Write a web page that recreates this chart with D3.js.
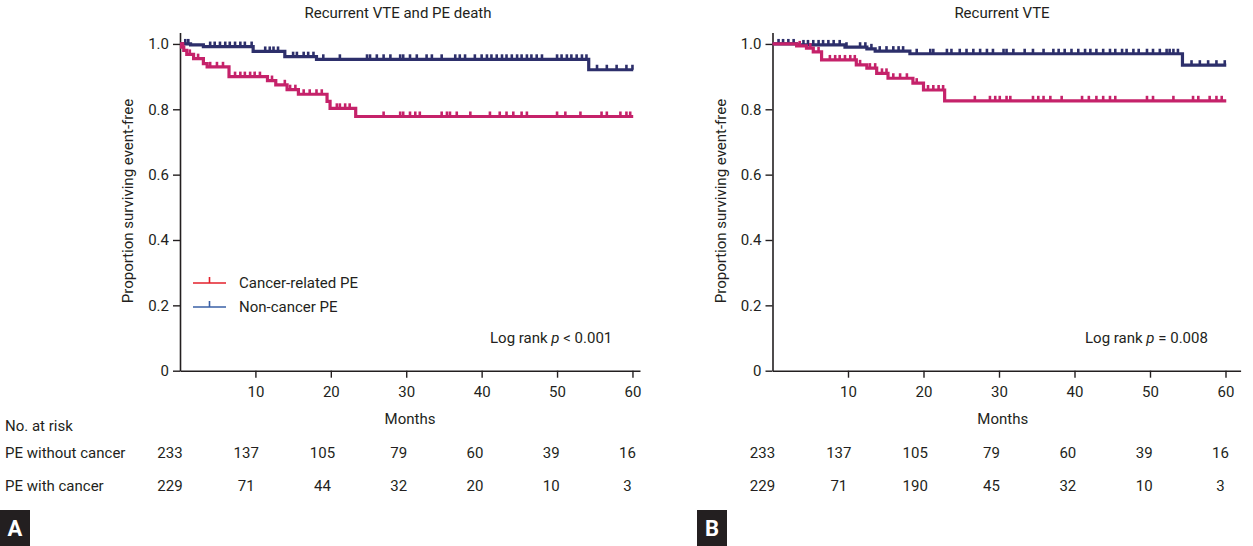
<!DOCTYPE html>
<html><head><meta charset="utf-8">
<script src="https://cdn.jsdelivr.net/npm/d3@7"></script>
<style>
body{margin:0;background:#fff;}
svg text{font-family:'Liberation Sans Narrow','Roboto',sans-serif;fill:#231f20;}
</style></head>
<body><svg id="c" width="1253" height="546"></svg>
<script>
// ---------- data ----------
const riskMonths = [0,10,20,30,40,50,60];
const xTicks = [10,20,30,40,50,60];
const yTicks = [0,0.2,0.4,0.6,0.8,1.0];
const riskWithoutCancerA = [233,137,105,79,60,39,16];
const riskWithCancerA    = [229,71,44,32,20,10,3];
const riskWithoutCancerB = [233,137,105,79,60,39,16];
const riskWithCancerB    = [229,71,190,45,32,10,3];
const seriesNames = ["Cancer-related PE","Non-cancer PE"];
const rowNames = ["PE without cancer","PE with cancer"];

// step points [month, proportion]
const aNonCancer = [[0,1.0],[1.4,0.997],[3.1,0.992],[9.7,0.977],[13.9,0.961],[18.1,0.953],[54.2,0.921]];
const aCancer = [[0,1.0],[0.2,0.99],[0.5,0.98],[0.9,0.968],[1.8,0.955],[3.1,0.94],[3.6,0.93],[6.5,0.90],[11.6,0.888],[12.7,0.875],[14.2,0.86],[15.7,0.846],[19.5,0.824],[19.9,0.803],[23.3,0.778]];
const bNonCancer = [[0,1.0],[3.2,0.997],[9.6,0.99],[12.5,0.985],[13.6,0.978],[18.2,0.97],[54.3,0.935]];
const bCancer = [[0,1.0],[3.2,0.994],[4.5,0.987],[5.4,0.976],[6.5,0.951],[11.1,0.936],[12.5,0.926],[13.8,0.91],[15.3,0.895],[18.6,0.88],[20.0,0.859],[22.8,0.826]];
const endMonth = 60.1;

// censoring times (months)
const aNonCancerCensor = [0.7,1.1,4.0,4.6,5.3,6.0,6.6,7.3,8.0,8.6,9.5,11.3,11.9,12.4,13.0,15.0,15.5,16.4,17.0,17.7,19.0,21.2,24.8,25.2,26.1,27.0,27.9,29.2,29.6,30.5,31.4,32.7,33.4,34.7,36.5,37.1,37.8,39.1,40.0,40.7,41.3,42.0,42.7,43.3,44.0,44.7,45.3,46.0,46.6,47.3,48.0,50.0,50.6,51.3,51.9,52.6,53.3,53.9,55.3,56.6,57.9,59.2,60.0];
const aCancerCensor = [0.4,1.3,2.4,4.0,4.9,5.7,7.3,8.0,8.6,9.3,9.9,10.6,12.2,13.9,14.6,15.3,16.4,17.2,18.1,18.8,20.8,21.2,21.9,22.5,27.0,29.2,29.6,30.5,31.2,31.8,34.7,35.4,35.8,36.7,38.5,41.1,42.4,43.3,44.2,45.3,46.0,50.0,51.1,53.1,55.9,56.6,58.4,59.2,59.7];
const bNonCancerCensor = [0.8,1.4,2.1,2.8,4.1,4.7,5.4,6.1,6.7,7.4,8.1,8.9,9.8,11.6,12.3,13.1,14.2,15.1,16.0,16.7,17.3,19.1,20.9,21.3,23.1,23.7,24.8,25.7,26.6,27.5,28.4,29.2,30.6,31.0,31.9,33.4,34.5,35.9,37.2,37.9,38.7,39.6,40.5,41.4,42.1,42.9,43.8,44.7,45.4,46.3,46.9,47.8,48.5,49.6,50.4,51.3,52.2,52.6,53.1,53.7,55.5,56.6,57.7,58.8,59.9];
const bCancerCensor = [3.6,5.0,6.1,7.6,8.3,8.9,9.6,10.3,10.9,11.6,12.9,13.6,14.5,15.1,16.0,16.9,17.8,19.1,20.6,21.3,22.0,22.6,26.8,28.8,29.5,30.1,31.0,31.5,34.5,35.2,35.9,36.8,38.3,41.0,41.9,42.9,43.8,44.7,45.4,49.6,50.4,53.1,55.7,56.4,57.9,58.8,59.5];

// ---------- style ----------
const navy = "#2d2f6b", magenta = "#c5226a";
const legendRed = "#e3202b", legendBlue = "#3a60a6";
const svg = d3.select("#c");

function stepValue(steps, t){
  let v = steps[0][1];
  for (const s of steps) if (s[0] <= t) v = s[1];
  return v;
}

function panel(opt){
  const g = svg.append("g");
  const x = d3.scaleLinear().domain([0, opt.xMax]).range([opt.x0, opt.x1]);
  const y = d3.scaleLinear().domain([0, 1.035]).range([370.7, 32.5]);

  // axes
  const ya = d3.axisLeft(y).tickValues(yTicks).tickSize(7).tickSizeOuter(0).tickPadding(4)
      .tickFormat(d => d === 0 ? "0" : d3.format(".1f")(d));
  const yg = g.append("g").attr("transform", `translate(${opt.x0},0)`).call(ya);
  const xa = d3.axisBottom(x).tickValues(xTicks).tickSize(7).tickSizeOuter(0).tickPadding(9);
  const xg = g.append("g").attr("transform", `translate(0,${y(0)})`).call(xa);
  [yg, xg].forEach(a => {
    a.select(".domain").attr("stroke", "#231f20").attr("stroke-width", 1.6);
    a.selectAll(".tick line").attr("stroke", "#231f20").attr("stroke-width", 1.4);
    a.selectAll(".tick text").attr("font-size", 15).attr("fill", "#231f20")
      .attr("font-family", "'Liberation Sans Narrow','Roboto',sans-serif");
  });

  // curves
  const line = d3.line().x(d => x(d[0])).y(d => y(d[1])).curve(d3.curveStepAfter);
  opt.series.forEach(s => {
    const pts = s.steps.concat([[endMonth, s.steps[s.steps.length-1][1]]]);
    g.append("path").attr("d", line(pts)).attr("fill", "none")
      .attr("stroke", s.color).attr("stroke-width", 3.2);
    g.selectAll(null).data(s.censor).enter().append("line")
      .attr("x1", d => x(d)).attr("x2", d => x(d))
      .attr("y1", d => y(stepValue(s.steps, d)))
      .attr("y2", d => y(stepValue(s.steps, d)) - 5)
      .attr("stroke", s.color).attr("stroke-width", 2.6);
  });

  // titles
  g.append("text").attr("x", opt.titleX).attr("y", 18).attr("text-anchor", "middle")
    .attr("font-size", 15).text(opt.title);
  g.append("text").attr("transform", `translate(${opt.x0 - 47},201) rotate(-90)`)
    .attr("text-anchor", "middle").attr("font-size", 15).text("Proportion surviving event-free");
  g.append("text").attr("x", x(30.5)).attr("y", 424).attr("text-anchor", "middle")
    .attr("font-size", 15).text("Months");

  // log rank
  const lr = g.append("text").attr("x", opt.lrX).attr("y", 343).attr("font-size", 15);
  lr.append("tspan").text("Log rank ");
  lr.append("tspan").attr("font-style", "italic").text("p");
  lr.append("tspan").text(opt.lrText);

  // risk table
  const off = d3.scaleLinear().domain([0,60]).range([-10,-5]);
  [[opt.riskTop, 458], [opt.riskBottom, 491]].forEach(([vals, yy]) => {
    g.selectAll(null).data(vals).enter().append("text")
      .attr("x", (d,i) => x(riskMonths[i]) + off(riskMonths[i]))
      .attr("y", yy).attr("text-anchor", "middle").attr("font-size", 15).text(d => d);
  });

  // panel letter
  g.append("rect").attr("x", opt.boxX).attr("y", 510).attr("width", 30).attr("height", 36).attr("fill", "#231f20");
  g.append("text").attr("x", opt.boxX + 15).attr("y", 536).attr("text-anchor", "middle")
    .attr("font-size", 22).attr("font-weight", "bold").style("fill", "#fff")
    .attr("font-family", "'Liberation Sans','Roboto',sans-serif").text(opt.letter);
  return {x, y, g};
}

const A = panel({x0:180, x1:640, xMax:61, title:"Recurrent VTE and PE death", titleX:398,
  lrX:490, lrText:" < 0.001", riskTop:riskWithoutCancerA, riskBottom:riskWithCancerA, boxX:0, letter:"A",
  series:[{steps:aNonCancer, censor:aNonCancerCensor, color:navy},{steps:aCancer, censor:aCancerCensor, color:magenta}]});
const B = panel({x0:772.5, x1:1240.6, xMax:62, title:"Recurrent VTE", titleX:1002,
  lrX:1085, lrText:" = 0.008", riskTop:riskWithoutCancerB, riskBottom:riskWithCancerB, boxX:697, letter:"B",
  series:[{steps:bNonCancer, censor:bNonCancerCensor, color:navy},{steps:bCancer, censor:bCancerCensor, color:magenta}]});

// row labels
svg.append("text").attr("x", 5).attr("y", 431).attr("font-size", 15).text("No. at risk");
rowNames.forEach((n,i) => svg.append("text").attr("x", 5).attr("y", [458,491][i]).attr("font-size", 15).text(n));

// legend (panel A)
const lg = svg.append("g");
[legendRed, legendBlue].forEach((c,i) => {
  const yy = 283 + i*24;
  lg.append("line").attr("x1",193).attr("x2",226).attr("y1",yy).attr("y2",yy).attr("stroke",c).attr("stroke-width",1.6);
  lg.append("line").attr("x1",209.5).attr("x2",209.5).attr("y1",yy).attr("y2",yy-6).attr("stroke",c).attr("stroke-width",1.6);
  lg.append("text").attr("x",239).attr("y",yy+5).attr("font-size",15).text(seriesNames[i]);
});
</script></body></html>
